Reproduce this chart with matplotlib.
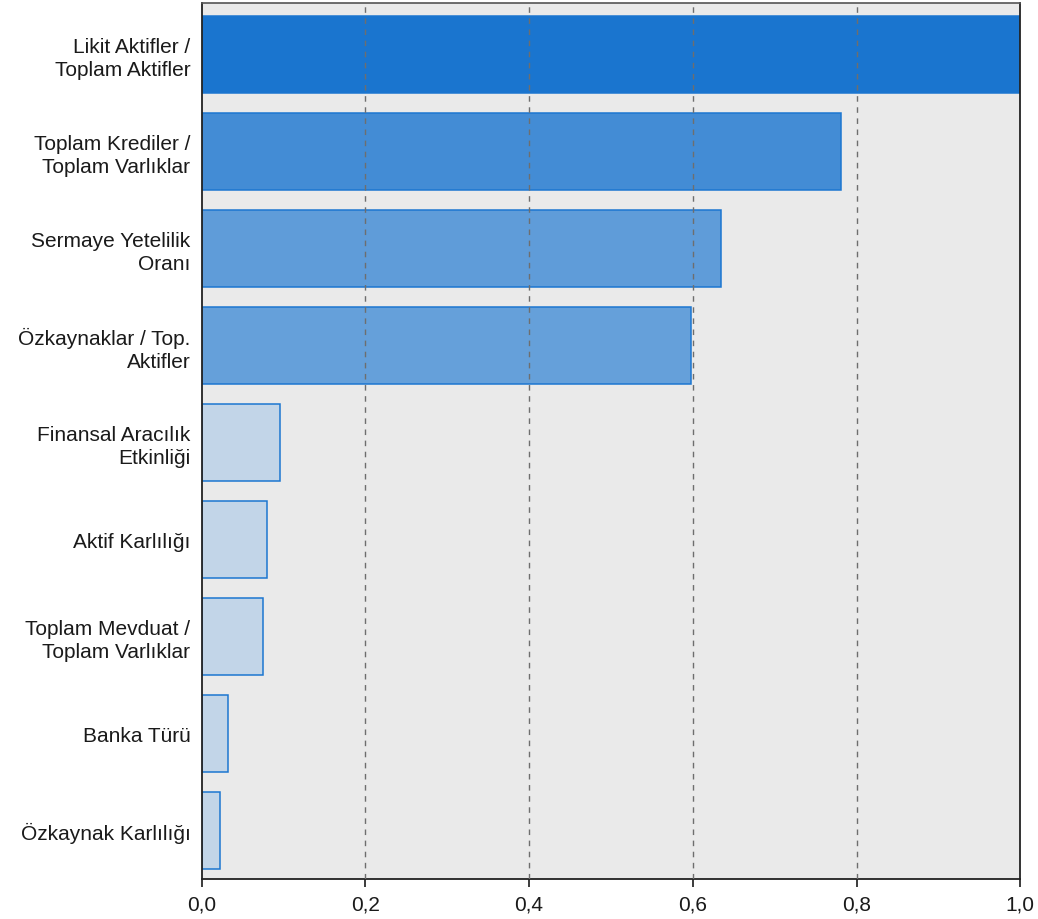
import matplotlib
matplotlib.use("Agg")
import matplotlib.pyplot as plt
from matplotlib.colors import LinearSegmentedColormap, Normalize
from matplotlib.ticker import FuncFormatter

# === Data (predictor importance) ===
labels = [
    "Likit Aktifler /\nToplam Aktifler",
    "Toplam Krediler /\nToplam Varlıklar",
    "Sermaye Yetelilik\nOranı",
    "Özkaynaklar / Top.\nAktifler",
    "Finansal Aracılık\nEtkinliği",
    "Aktif Karlılığı",
    "Toplam Mevduat /\nToplam Varlıklar",
    "Banka Türü",
    "Özkaynak Karlılığı",
]
importance = [1.0, 0.781, 0.634, 0.598, 0.096, 0.080, 0.075, 0.032, 0.023]
xticks = [0.0, 0.2, 0.4, 0.6, 0.8, 1.0]

plt.rcParams['font.family'] = ['Liberation Sans', 'DejaVu Sans']

fig = plt.figure(figsize=(10.38, 9.2), dpi=100)
ax = fig.add_axes([201.5 / 1038, 40 / 920, (1020.3 - 201.5) / 1038, (916 - 40) / 920])
ax.set_facecolor("#eaeaea")

# colour bars by importance, light for small values
cmap = LinearSegmentedColormap.from_list("imp", ["#c2d5e8", "#1a75cf"])
norm = Normalize(0.1, 1.0, clip=True)
colors = [cmap(norm(v)) for v in importance]

ypos = list(range(len(labels)))
ax.barh(ypos, importance, height=0.8, color=colors, edgecolor="#1c76d0",
        linewidth=1.1, zorder=2)

# dashed reference lines drawn over bars
for xv in xticks[1:-1]:
    ax.axvline(xv, color="#6e6e6e", linestyle=(0, (4, 4)), linewidth=1.0, zorder=3)

ax.set_xlim(0, 1.0)
ax.set_ylim(len(labels) - 0.5, -0.53)
ax.set_yticks(ypos)
ax.set_yticklabels(labels, fontsize=15, color="#1a1a1a", linespacing=1.24)
ax.tick_params(axis="y", length=0, pad=8)
ax.set_xticks(xticks)
ax.xaxis.set_major_formatter(FuncFormatter(lambda v, p: f"{v:.1f}".replace(".", ",")))
ax.tick_params(axis="x", direction="out", length=6, width=1.2, labelsize=15,
               colors="#1a1a1a", pad=5)

for side in ["left", "bottom", "right"]:
    ax.spines[side].set_color("#222222")
    ax.spines[side].set_linewidth(1.3)
ax.spines["top"].set_color("#555555")
ax.spines["top"].set_linewidth(1.2)

plt.savefig("out.png", dpi=100)
plt.close()
